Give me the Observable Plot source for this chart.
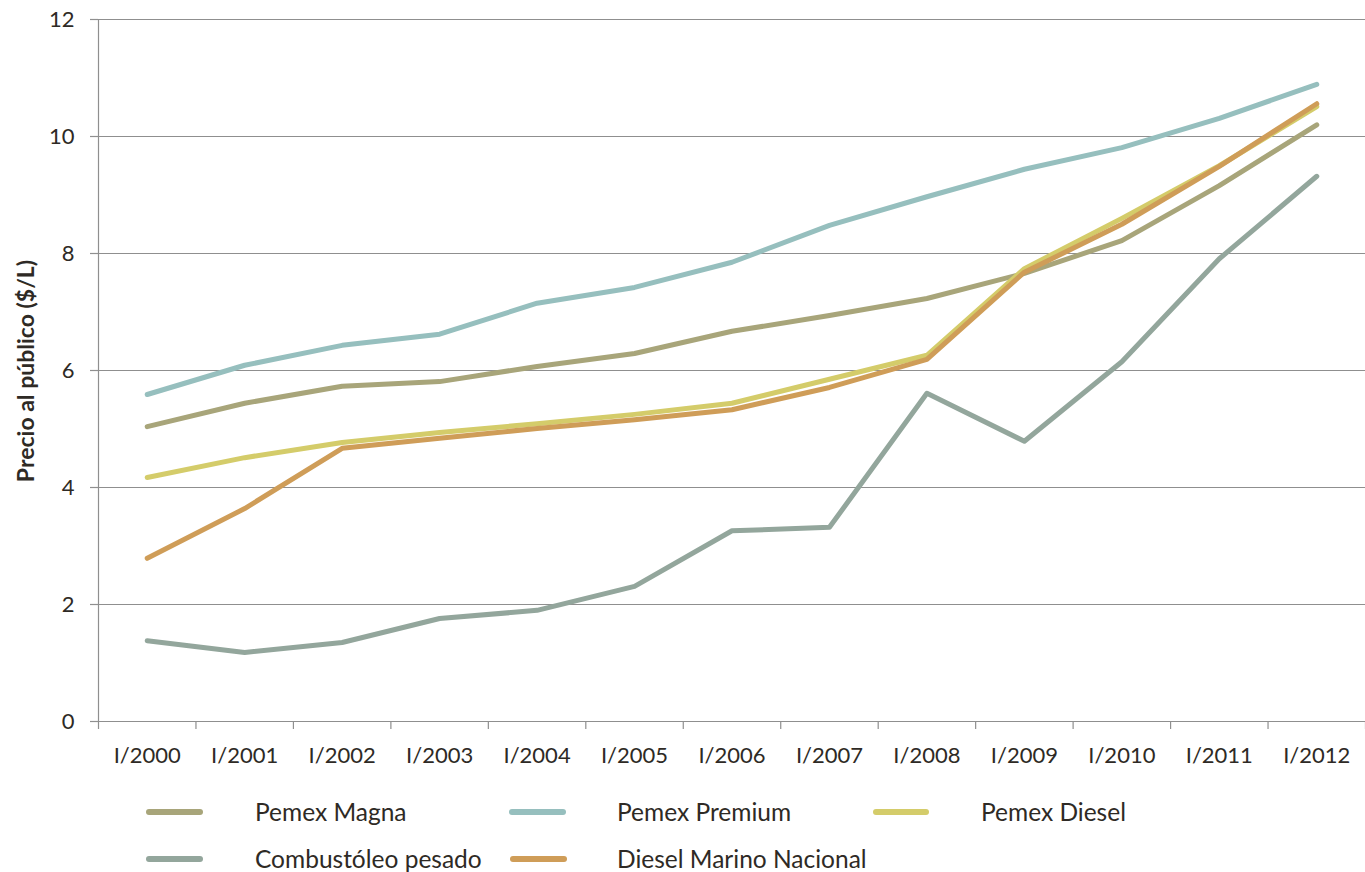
<!DOCTYPE html>
<html>
<head>
<meta charset="utf-8">
<script src="https://cdn.jsdelivr.net/npm/d3@7"></script>
<script src="https://cdn.jsdelivr.net/npm/@observablehq/plot@0.6"></script>
<style>
  body { margin: 0; background: #fff; font-family: Lato, "Open Sans", sans-serif; }
  #wrap { position: relative; width: 1365px; height: 872px; overflow: hidden; }
  .sw { position: absolute; height: 6px; border-radius: 3px; }
  .lt { position: absolute; font-size: 24.5px; color: #2e2a25; line-height: 30px; white-space: nowrap; }
</style>
</head>
<body>
<div id="wrap"></div>
<script>
const periods = ["I/2000","I/2001","I/2002","I/2003","I/2004","I/2005","I/2006","I/2007","I/2008","I/2009","I/2010","I/2011","I/2012"];
const seriesNames = ["Pemex Magna","Pemex Premium","Pemex Diesel","Combustóleo pesado","Diesel Marino Nacional"];
const seriesColors = ["#a8a57a","#96bfbe","#d4cc6a","#93a69c","#cf9d58"];
const magna = [5.04,5.44,5.73,5.81,6.07,6.29,6.67,6.94,7.23,7.66,8.22,9.16,10.2];
const premium = [5.59,6.09,6.43,6.62,7.15,7.42,7.85,8.48,8.97,9.44,9.81,10.31,10.89];
const diesel = [4.17,4.51,4.77,4.94,5.09,5.25,5.44,5.85,6.26,7.74,8.6,9.5,10.51];
const combustoleo = [1.38,1.18,1.35,1.76,1.9,2.31,3.26,3.32,5.61,4.79,6.15,7.91,9.32];
const marino = [2.79,3.64,4.67,4.84,5.01,5.16,5.33,5.71,6.19,7.68,8.5,9.49,10.56];
const yTicks = [0,2,4,6,8,10,12];

const seriesValues = [magna, premium, diesel, combustoleo, marino];
const data = [];
seriesNames.forEach((name, s) => seriesValues[s].forEach((v, i) => data.push({series: name, i, value: v})));
const boundaries = d3.range(periods.length + 1).map(i => i - 0.5);

const plot = Plot.plot({
  width: 1365,
  height: 775,
  marginLeft: 98,
  marginRight: 0,
  marginTop: 19,
  marginBottom: 54,
  style: {fontFamily: "Lato, 'Open Sans', sans-serif", fontSize: "22px", color: "#2e2a25", background: "#fff", overflow: "visible"},
  x: {domain: [-0.5, periods.length - 0.5], axis: null},
  y: {domain: [0, 12], axis: null},
  color: {domain: seriesNames, range: seriesColors},
  marks: [
    Plot.ruleY(yTicks.filter(d => d > 0), {stroke: "#8f8f8f", strokeWidth: 1.2}),
    Plot.tickY(yTicks, {y: d => d, stroke: "#8f8f8f", strokeWidth: 1.2}),
    Plot.tickX(boundaries, {x: d => d, stroke: "#8f8f8f", strokeWidth: 1.2}),
    Plot.ruleX([-0.5], {stroke: "#8f8f8f", strokeWidth: 1.2}),
    Plot.ruleY([0], {stroke: "#8f8f8f", strokeWidth: 1.2}),
    Plot.text(yTicks, {x: -0.5, y: d => d, text: d => String(d), dx: -24, textAnchor: "end", fill: "#2e2a25", fontSize: 22}),
    Plot.text(periods, {x: (d, i) => i, y: () => 0, text: d => d, dy: 34, fill: "#2e2a25", fontSize: 22}),
    Plot.line(data, {x: "i", y: "value", z: "series", stroke: "series", strokeWidth: 5, strokeLinecap: "round", strokeLinejoin: "round"})
  ]
});
const wrap = document.getElementById("wrap");
wrap.appendChild(plot);
const x = plot.scale("x"), y = plot.scale("y");
const x0 = x.apply(-0.5), y0 = y.apply(0);
d3.select(plot).selectAll("g[aria-label='tick'] line").each(function() {
  const x1 = +this.getAttribute("x1"), x2 = +this.getAttribute("x2");
  if (x1 === x2) {
    this.setAttribute("y1", y0);
    this.setAttribute("y2", y0 + 8);
  } else {
    this.setAttribute("x1", x0 - 8);
    this.setAttribute("x2", x0);
  }
});
d3.select(plot).append("text")
  .attr("transform", "translate(34,371) rotate(-90)")
  .attr("text-anchor", "middle")
  .attr("font-weight", "bold")
  .attr("font-size", 23)
  .attr("fill", "#2e2a25")
  .text("Precio al público ($/L)");

const legendPos = [
  {sx: 146, sw: 57, tx: 255, y: 812},
  {sx: 509, sw: 57, tx: 617, y: 812},
  {sx: 873, sw: 56, tx: 981, y: 812},
  {sx: 146, sw: 57, tx: 255, y: 859},
  {sx: 510, sw: 57, tx: 617, y: 859}
];
seriesNames.forEach((name, s) => {
  const p = legendPos[s];
  const sw = document.createElement("div");
  sw.className = "sw";
  sw.style.left = p.sx + "px"; sw.style.width = p.sw + "px"; sw.style.top = (p.y - 3) + "px";
  sw.style.background = seriesColors[s];
  wrap.appendChild(sw);
  const t = document.createElement("div");
  t.className = "lt";
  t.style.left = p.tx + "px"; t.style.top = (p.y - 15) + "px";
  t.textContent = name;
  wrap.appendChild(t);
});
</script>
</body>
</html>
